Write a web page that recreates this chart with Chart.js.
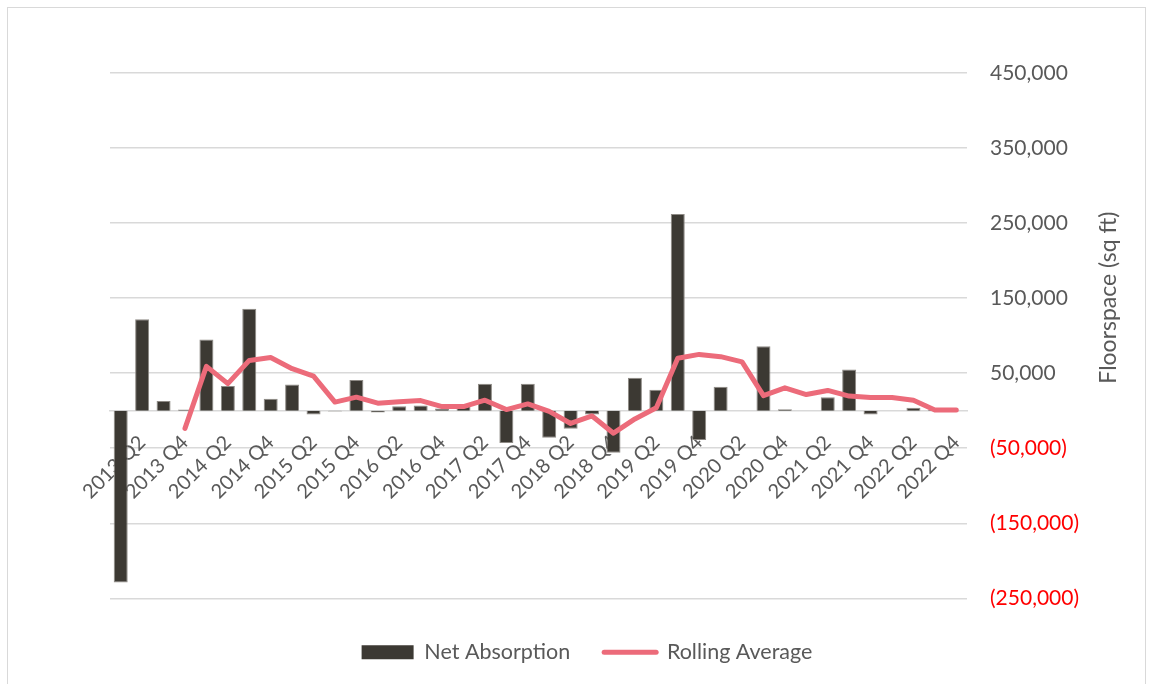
<!DOCTYPE html>
<html>
<head>
<meta charset="utf-8">
<script src="https://cdn.jsdelivr.net/npm/chart.js@4/dist/chart.umd.min.js"></script>
<style>
  html, body { margin: 0; padding: 0; background: #ffffff; }
  #wrap { position: relative; width: 1154px; height: 684px; overflow: hidden; }
  #frame { position: absolute; left: 7px; top: 7px; width: 1139px; height: 700px;
           border: 1px solid #d9d9d9; box-sizing: border-box; pointer-events: none; }
  canvas { position: absolute; left: 0; top: 0; }
</style>
</head>
<body>
<div id="wrap">
  <canvas id="chart" width="1154" height="684"></canvas>
  <div id="frame"></div>
</div>
<script>
// Quarterly categories, 2013 Q1 .. 2022 Q4
const quarters = [
  '2013 Q1','2013 Q2','2013 Q3','2013 Q4',
  '2014 Q1','2014 Q2','2014 Q3','2014 Q4',
  '2015 Q1','2015 Q2','2015 Q3','2015 Q4',
  '2016 Q1','2016 Q2','2016 Q3','2016 Q4',
  '2017 Q1','2017 Q2','2017 Q3','2017 Q4',
  '2018 Q1','2018 Q2','2018 Q3','2018 Q4',
  '2019 Q1','2019 Q2','2019 Q3','2019 Q4',
  '2020 Q1','2020 Q2','2020 Q3','2020 Q4',
  '2021 Q1','2021 Q2','2021 Q3','2021 Q4',
  '2022 Q1','2022 Q2','2022 Q3','2022 Q4'
];

// Net absorption per quarter (sq ft)
const netAbsorption = [
  -229000, 122000, 13000, 1500,
  95000, 33000, 136000, 16000,
  35000, -5000, -1000, 41000,
  -2500, 6000, 7000, 3000,
  7000, 36000, -43000, 36000,
  -36000, -24000, -5000, -56000,
  44000, 28000, 262000, -39000,
  32000, 0, 86000, 2000,
  0, 18000, 55000, -5000,
  0, 4000, 1000, 0
];

// Four-quarter rolling average (sq ft)
const rollingAverage = [
  null, null, null, -23500,
  59000, 36000, 67000, 71000,
  56000, 46000, 11500, 18000,
  10000, 12000, 13500, 5500,
  5500, 14000, 1500, 9000,
  -1000, -17000, -7000, -30000,
  -11000, 4000, 70000, 75000,
  72000, 65000, 20000, 30500,
  21500, 27000, 19500, 17500,
  17500, 14000, 1000, 1000
];

// Value axis ticks
const yTicks = [-250000, -150000, -50000, 50000, 150000, 250000, 350000, 450000];
const yTitle = 'Floorspace (sq ft)';

const FONT = 'Lato';
const TEXT = '#595959';
const GRID = '#d9d9d9';

function fmt(v) {
  const s = Math.abs(v).toLocaleString('en-US');
  return v < 0 ? '(' + s + ')' : s;
}

// Right-hand axis title, reading bottom to top
const sideTitle = {
  id: 'sideTitle',
  afterDraw(chart) {
    const ctx = chart.ctx;
    const ys = chart.scales.y;
    const area = chart.chartArea;
    ctx.save();
    ctx.font = '23px ' + FONT;
    ctx.fillStyle = TEXT;
    ctx.textAlign = 'center';
    ctx.textBaseline = 'middle';
    ctx.translate(ys.left + 142, (area.top + area.bottom) / 2 - 38);
    ctx.rotate(-Math.PI / 2);
    ctx.fillText(yTitle, 0, 0);
    ctx.restore();
  }
};

new Chart(document.getElementById('chart'), {
  type: 'bar',
  data: {
    labels: quarters,
    datasets: [
      {
        label: 'Net Absorption',
        data: netAbsorption,
        yAxisID: 'y',
        backgroundColor: '#3c3933',
        borderColor: '#8e8a85',
        borderWidth: 1,
        barPercentage: 0.654,
        categoryPercentage: 1.0,
        order: 1
      },
      {
        type: 'line',
        label: 'Rolling Average',
        data: rollingAverage,
        yAxisID: 'y',
        borderColor: '#ec6b7a',
        backgroundColor: '#ec6b7a',
        borderWidth: 5,
        borderJoinStyle: 'round',
        borderCapStyle: 'round',
        pointRadius: 0,
        pointHoverRadius: 0,
        tension: 0,
        fill: false,
        order: 0
      }
    ]
  },
  options: {
    responsive: false,
    animation: false,
    devicePixelRatio: 1,
    layout: { padding: { left: 20, top: 73, right: 0, bottom: 11 } },
    plugins: {
      tooltip: { enabled: false },
      legend: {
        position: 'bottom',
        title: { display: true, text: '', padding: { top: 8, bottom: 0 }, font: { size: 1 } },
        labels: {
          usePointStyle: true,
          boxWidth: 52,
          boxHeight: 14,
          pointStyleWidth: 52,
          padding: 34,
          color: TEXT,
          font: { family: FONT, size: 21.5 },
          sort: (a, b) => a.datasetIndex - b.datasetIndex,
          generateLabels(chart) {
            return chart.data.datasets.map((ds, i) => ({
              text: ds.label,
              datasetIndex: i,
              fillStyle: ds.type === 'line' ? ds.borderColor : ds.backgroundColor,
              strokeStyle: ds.type === 'line' ? ds.borderColor : ds.backgroundColor,
              lineWidth: ds.type === 'line' ? 5 : 0,
              lineCap: 'round',
              pointStyle: ds.type === 'line' ? 'line' : 'rect',
              fontColor: TEXT,
              hidden: false
            }));
          }
        }
      }
    },
    scales: {
      x: {
        position: { y: 0 },
        z: 1,
        grid: { display: false, drawTicks: false },
        border: { display: true, color: GRID, width: 1.5 },
        ticks: {
          autoSkip: false,
          minRotation: 45,
          maxRotation: 45,
          padding: 20,
          color: TEXT,
          font: { family: FONT, size: 20 },
          callback: (v, i) => (i % 2 === 1 ? quarters[i] : '')
        }
      },
      // blank spacer on the left so the plot starts where the legend is centred
      yLeft: {
        type: 'linear',
        position: 'left',
        afterFit: (scale) => { scale.width = 90; },
        grid: { display: false, drawTicks: false },
        border: { display: false },
        ticks: { display: false }
      },
      y: {
        position: 'right',
        min: yTicks[0],
        max: yTicks[yTicks.length - 1],
        afterBuildTicks: (scale) => { scale.ticks = yTicks.map(v => ({ value: v })); },
        afterFit: (scale) => { scale.width = 187; },
        grid: { color: GRID, lineWidth: 1.5, drawTicks: false },
        border: { display: false },
        ticks: {
          padding: 23,
          font: { family: FONT, size: 21 },
          color: (ctx) => (ctx.tick && ctx.tick.value < 0 ? '#ff0000' : TEXT),
          callback: (v) => fmt(v)
        }
      }
    }
  },
  plugins: [sideTitle]
});
</script>
</body>
</html>
